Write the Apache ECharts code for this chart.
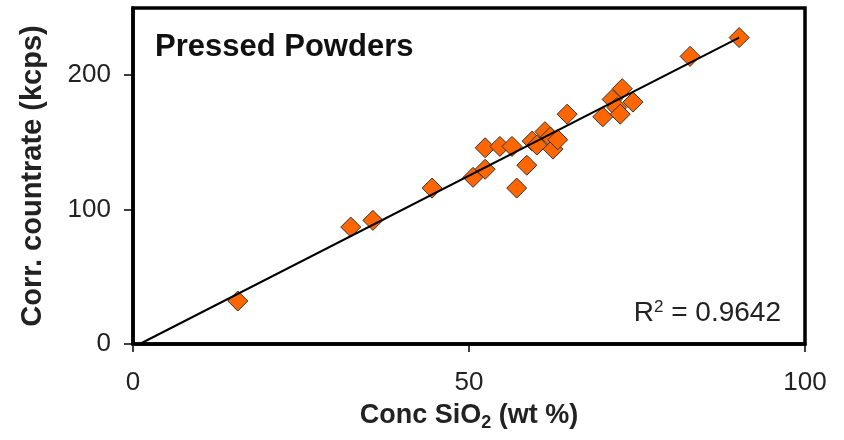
<!DOCTYPE html>
<html>
<head>
<meta charset="utf-8">
<script src="https://cdn.jsdelivr.net/npm/echarts@6/dist/echarts.min.js"></script>
<style>
html, body { margin: 0; padding: 0; background: #fff; }
#main { width: 844px; height: 440px; }
</style>
</head>
<body>
<div id="main"></div>
<script>
// данные
var concSiO2 = [15.6, 32.4, 35.7, 44.5, 50.6, 52.4, 52.4, 54.6, 56.4, 57.1, 58.6, 59.4, 60.1, 61.3, 62.1, 62.5, 63.2, 64.6, 69.9, 71.3, 72.0, 72.5, 72.8, 74.4, 82.9, 90.2];
var countrate = [32, 87, 92, 116, 124, 130, 146, 147, 147, 116, 133, 151, 148, 158, 154, 145, 152, 171, 169, 182, 176, 171, 190, 180, 214, 228];
var trendX = [1.0, 90.2];
var trendY = [0, 228];
var xTicks = [0, 50, 100];
var yTicks = [0, 100, 200];

var font = "'Liberation Sans', Arial, sans-serif";

var points = concSiO2.map(function (x, i) { return [x, countrate[i]]; });
var trend = trendX.map(function (x, i) { return [x, trendY[i]]; });

var myChart = echarts.init(document.getElementById('main'));
var option = {
  animation: false,
  backgroundColor: '#fff',
  title: [{
    text: 'Pressed Powders',
    left: 150, top: 27,
    textStyle: { fontFamily: font, fontSize: 31, fontWeight: 'bold', color: '#111' }
  }, {
    text: 'R{sup|2} = 0.9642',
    right: 58, top: 294,
    textStyle: {
      fontFamily: font, fontSize: 28, fontWeight: 'normal', color: '#222',
      rich: {
        sup: { fontFamily: font, fontSize: 17, fontWeight: 'normal', color: '#222', verticalAlign: 'top', padding: [0, 0, 12, 0] }
      }
    }
  }],
  grid: {
    left: 133, right: 39, top: 8, bottom: 96,
    show: true, borderColor: '#000', borderWidth: 3.5
  },
  xAxis: {
    type: 'value', min: 0, max: 100, interval: 50,
    name: 'Conc SiO{sub|2} (wt %)',
    nameLocation: 'middle', nameGap: 56,
    nameTextStyle: {
      fontFamily: font, fontSize: 27, fontWeight: 'bold', color: '#222',
      rich: { sub: { fontFamily: font, fontSize: 18, fontWeight: 'bold', color: '#222', padding: [14, 0, 0, 0] } }
    },
    axisLine: { lineStyle: { color: '#000', width: 3.5 } },
    axisTick: { length: 8, customValues: xTicks, lineStyle: { color: '#000', width: 1.5 } },
    axisLabel: { customValues: xTicks, margin: 26, fontFamily: font, fontSize: 26, color: '#222' },
    splitLine: { show: false }
  },
  yAxis: {
    type: 'value', min: 0, max: 250, interval: 100,
    name: 'Corr. countrate (kcps)',
    nameLocation: 'middle', nameGap: 86,
    nameTextStyle: { fontFamily: font, fontSize: 29, fontWeight: 'bold', color: '#222' },
    axisLine: { lineStyle: { color: '#000', width: 3.5 } },
    axisTick: { length: 9, customValues: yTicks, lineStyle: { color: '#000', width: 1.5 } },
    axisLabel: { customValues: yTicks, margin: 22, fontFamily: font, fontSize: 26, color: '#222' },
    splitLine: { show: false }
  },
  series: [{
    type: 'line',
    data: trend,
    symbol: 'none',
    lineStyle: { color: '#000', width: 2 },
    z: 3
  }, {
    type: 'scatter',
    data: points,
    symbol: 'diamond',
    symbolSize: [20, 20],
    itemStyle: { color: '#FF6600', opacity: 1, borderColor: '#333', borderWidth: 1 },
    z: 2
  }]
};
myChart.setOption(option);
</script>
</body>
</html>
